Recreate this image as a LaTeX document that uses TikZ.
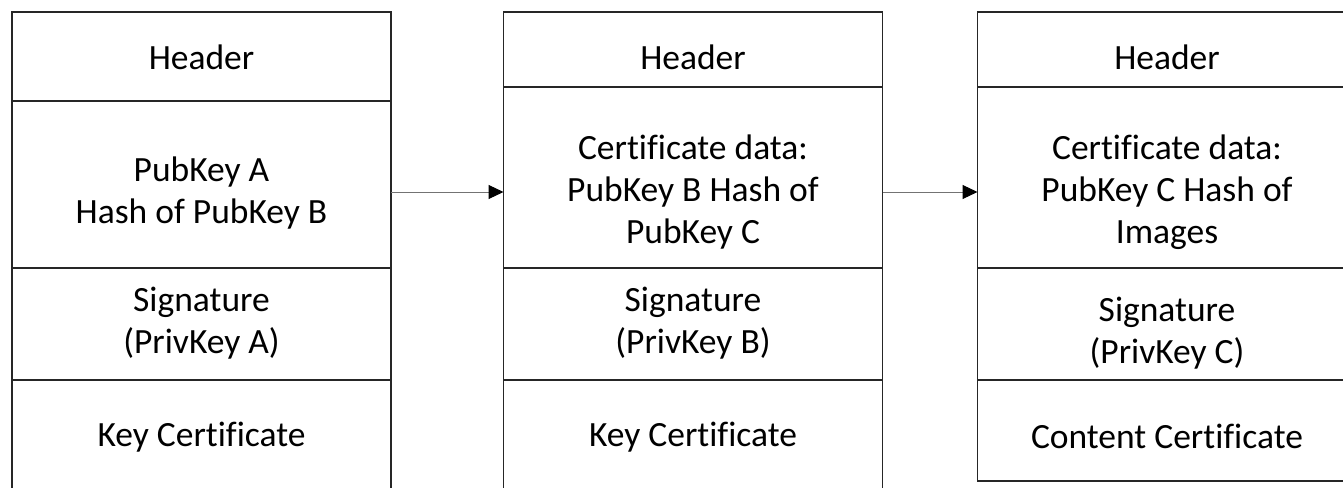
\documentclass[tikz,border=0pt]{standalone}
\usepackage{fontspec}
\setmainfont{Carlito}[Ligatures={NoCommon}]
\usetikzlibrary{arrows.meta}
\begin{document}
\begin{tikzpicture}[x=1pt,y=-1pt,
  sec/.style={draw=black!85,line width=1.6pt,inner sep=0pt,outer sep=0pt,minimum width=379pt},
  txt/.style={inner sep=0pt,align=center,font=\fontsize{35.5}{42}\selectfont},
  arr/.style={draw=black!55,line width=1pt,-{Triangle[length=15pt,width=14pt,black]}}]
\clip (0,0) rectangle (1343,487);
% box 1
\node[sec,minimum height=89pt]  (b1h) at (201.5,56.5) {};
\node[sec,minimum height=167pt] (b1p) at (201.5,184.5) {};
\node[sec,minimum height=112pt] (b1s) at (201.5,324) {};
\node[sec,minimum height=120pt] (b1k) at (201.5,440) {};
% box 2
\node[sec,minimum height=75pt]  (b2h) at (693,49.5) {};
\node[sec,minimum height=181pt] (b2p) at (693,177.5) {};
\node[sec,minimum height=112pt] (b2s) at (693,324) {};
\node[sec,minimum height=120pt] (b2k) at (693,440) {};
% box 3
\node[sec,minimum height=75pt]  (b3h) at (1167,49.5) {};
\node[sec,minimum height=181pt] (b3p) at (1167,177.5) {};
\node[sec,minimum height=112pt] (b3s) at (1167,324) {};
\node[sec,minimum height=101pt] (b3k) at (1167,430.5) {};
% texts
\node[txt] (t1h) at (201.5,57) {Header};
\node[txt] (t1p) at (201.5,193) {PubKey A\\Hash of PubKey B};
\node[txt] (t1s) at (201.5,323) {Signature\\(PrivKey A)};
\node[txt] (t1k) at (201.5,437) {Key Certificate};
\node[txt] (t2h) at (693,57) {Header};
\node[txt] (t2p) at (693,192) {Certificate data:\\PubKey B Hash of\\PubKey C};
\node[txt] (t2s) at (693,323) {Signature\\(PrivKey B)};
\node[txt] (t2k) at (693,437) {Key Certificate};
\node[txt] (t3h) at (1167,57) {Header};
\node[txt] (t3p) at (1167,192) {Certificate data:\\PubKey C Hash of\\Images};
\node[txt] (t3s) at (1167,333) {Signature\\(PrivKey C)};
\node[txt] (t3k) at (1167,436) {Content Certificate};
% arrows
\coordinate (ay) at (0,192);
\draw[arr] (b1p.east |- ay) -- (b2p.west |- ay);
\draw[arr] (b2p.east |- ay) -- (b3p.west |- ay);
\end{tikzpicture}
\end{document}
